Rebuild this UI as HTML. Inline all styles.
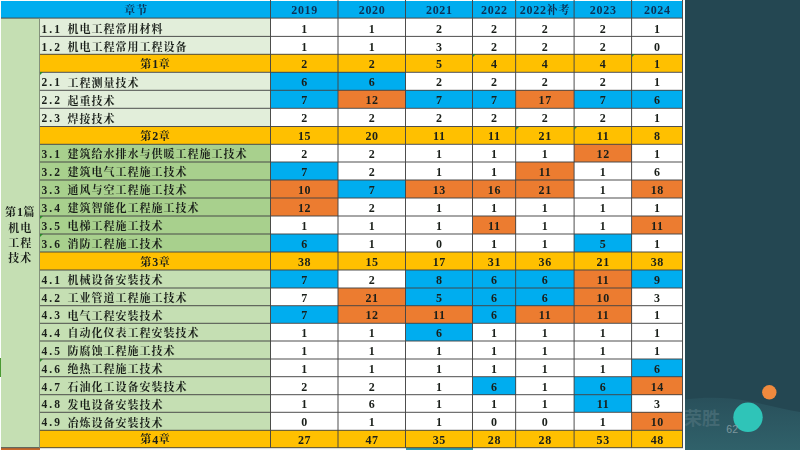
<!DOCTYPE html>
<html lang="zh-CN"><head><meta charset="utf-8"><title>章节分值统计</title>
<style>
html,body{margin:0;padding:0}
body{width:800px;height:450px;overflow:hidden;position:relative;background:#244752;font-family:"Liberation Serif","Noto Serif CJK SC",serif;font-weight:bold;color:#1a1f1a}
#t{position:absolute;left:0;top:0;width:685px;will-change:transform;height:450px;background:#fbfdfb;overflow:hidden}
.c{position:absolute;box-sizing:border-box;font-size:12px;line-height:1;white-space:nowrap;display:flex;align-items:center;justify-content:center;padding-top:2px}
.n{letter-spacing:0.7px;padding-left:0.7px}
.s{justify-content:flex-start;padding-left:2px;padding-top:3.5px;font-size:11px;letter-spacing:1px}
.g{font-size:11px;letter-spacing:1px;padding-left:1px}
.g i{font-style:normal;font-size:12px;letter-spacing:0.5px}
.z{font-size:11px;letter-spacing:1px}
.s i{font-style:normal;display:inline-block;width:26px;font-size:11.5px;letter-spacing:2px}
.k{position:absolute;width:0;height:0;border-top:3px solid #2a8a2a;border-right:3px solid transparent}
#p{position:absolute;left:0.5px;top:21px;width:38.5px;height:430px;display:flex;flex-direction:column;align-items:center;justify-content:center;font-size:11px;letter-spacing:1px;padding-left:1px;box-sizing:border-box;line-height:15.3px;text-align:center}
#p i{font-style:normal;font-size:12px;letter-spacing:0.5px}
</style></head><body>
<div id="t">
<div class="c g" style="left:1px;top:1px;width:269.5px;height:17.1px;background:#00adef;color:#0c3256;padding-top:1.4px">章节</div>
<div class="c n" style="left:270.5px;top:1px;width:67.5px;height:17.1px;background:#00adef;color:#0c3256;padding-top:1.4px">2019</div>
<div class="c n" style="left:338px;top:1px;width:67.5px;height:17.1px;background:#00adef;color:#0c3256;padding-top:1.4px">2020</div>
<div class="c n" style="left:405.5px;top:1px;width:67.0px;height:17.1px;background:#00adef;color:#0c3256;padding-top:1.4px">2021</div>
<div class="c n" style="left:472.5px;top:1px;width:43.15px;height:17.1px;background:#00adef;color:#0c3256;padding-top:1.4px">2022</div>
<div class="c n" style="left:515.65px;top:1px;width:58.45px;height:17.1px;background:#00adef;color:#0c3256;padding-top:1.4px">2022<span class="z">补考</span></div>
<div class="c n" style="left:574.1px;top:1px;width:57.5px;height:17.1px;background:#00adef;color:#0c3256;padding-top:1.4px">2023</div>
<div class="c n" style="left:631.6px;top:1px;width:50.9px;height:17.1px;background:#00adef;color:#0c3256;padding-top:1.4px">2024</div>
<div class="c" style="left:1px;top:18.1px;width:38.5px;height:429.6px;background:#c5dfb3"></div>
<div id="p"><span>第<i>1</i>篇</span><span>机电</span><span>工程</span><span>技术</span></div>
<div class="c" style="left:1px;top:448.2px;width:38.5px;height:2px;background:#c8692a"></div>
<div class="c" style="left:405.5px;top:448px;width:67px;height:2px;background:#2a9bb0"></div>
<div class="c s" style="left:39.5px;top:18.1px;width:231.0px;height:18.3px;background:#e2eeda;padding-top:4.6px"><i>1.1</i>机电工程常用材料</div>
<div class="c n" style="left:270.5px;top:18.1px;width:67.5px;height:18.3px;background:#ffffff;padding-top:3px">1</div>
<div class="c n" style="left:338px;top:18.1px;width:67.5px;height:18.3px;background:#ffffff;padding-top:3px">1</div>
<div class="c n" style="left:405.5px;top:18.1px;width:67.0px;height:18.3px;background:#ffffff;padding-top:3px">2</div>
<div class="c n" style="left:472.5px;top:18.1px;width:43.15px;height:18.3px;background:#ffffff;padding-top:3px">2</div>
<div class="c n" style="left:515.65px;top:18.1px;width:58.45px;height:18.3px;background:#ffffff;padding-top:3px">2</div>
<div class="c n" style="left:574.1px;top:18.1px;width:57.5px;height:18.3px;background:#ffffff;padding-top:3px">2</div>
<div class="c n" style="left:631.6px;top:18.1px;width:50.9px;height:18.3px;background:#ffffff;padding-top:3px">1</div>
<div class="c s" style="left:39.5px;top:36.4px;width:231.0px;height:17.9px;background:#e2eeda;padding-top:4.6px"><i>1.2</i>机电工程常用工程设备</div>
<div class="c n" style="left:270.5px;top:36.4px;width:67.5px;height:17.9px;background:#ffffff;padding-top:3px">1</div>
<div class="c n" style="left:338px;top:36.4px;width:67.5px;height:17.9px;background:#ffffff;padding-top:3px">1</div>
<div class="c n" style="left:405.5px;top:36.4px;width:67.0px;height:17.9px;background:#ffffff;padding-top:3px">3</div>
<div class="c n" style="left:472.5px;top:36.4px;width:43.15px;height:17.9px;background:#ffffff;padding-top:3px">2</div>
<div class="c n" style="left:515.65px;top:36.4px;width:58.45px;height:17.9px;background:#ffffff;padding-top:3px">2</div>
<div class="c n" style="left:574.1px;top:36.4px;width:57.5px;height:17.9px;background:#ffffff;padding-top:3px">2</div>
<div class="c n" style="left:631.6px;top:36.4px;width:50.9px;height:17.9px;background:#ffffff;padding-top:3px">0</div>
<div class="c g" style="left:39.5px;top:54.3px;width:231.0px;height:18.0px;background:#ffc000">第<i>1</i>章</div>
<div class="c n" style="left:270.5px;top:54.3px;width:67.5px;height:18.0px;background:#ffc000">2</div>
<div class="c n" style="left:338px;top:54.3px;width:67.5px;height:18.0px;background:#ffc000">2</div>
<div class="c n" style="left:405.5px;top:54.3px;width:67.0px;height:18.0px;background:#ffc000">5</div>
<div class="c n" style="left:472.5px;top:54.3px;width:43.15px;height:18.0px;background:#ffc000">4</div>
<div class="c n" style="left:515.65px;top:54.3px;width:58.45px;height:18.0px;background:#ffc000">4</div>
<div class="c n" style="left:574.1px;top:54.3px;width:57.5px;height:18.0px;background:#ffc000">4</div>
<div class="c n" style="left:631.6px;top:54.3px;width:50.9px;height:18.0px;background:#ffc000">1</div>
<div class="c s" style="left:39.5px;top:72.3px;width:231.0px;height:18.0px;background:#e2eeda"><i>2.1</i>工程测量技术</div>
<div class="c n" style="left:270.5px;top:72.3px;width:67.5px;height:18.0px;background:#00adef">6</div>
<div class="c n" style="left:338px;top:72.3px;width:67.5px;height:18.0px;background:#00adef">6</div>
<div class="c n" style="left:405.5px;top:72.3px;width:67.0px;height:18.0px;background:#ffffff">2</div>
<div class="c n" style="left:472.5px;top:72.3px;width:43.15px;height:18.0px;background:#ffffff">2</div>
<div class="c n" style="left:515.65px;top:72.3px;width:58.45px;height:18.0px;background:#ffffff">2</div>
<div class="c n" style="left:574.1px;top:72.3px;width:57.5px;height:18.0px;background:#ffffff">2</div>
<div class="c n" style="left:631.6px;top:72.3px;width:50.9px;height:18.0px;background:#ffffff">1</div>
<div class="c s" style="left:39.5px;top:90.3px;width:231.0px;height:18.0px;background:#e2eeda"><i>2.2</i>起重技术</div>
<div class="c n" style="left:270.5px;top:90.3px;width:67.5px;height:18.0px;background:#00adef">7</div>
<div class="c n" style="left:338px;top:90.3px;width:67.5px;height:18.0px;background:#ec7c30">12</div>
<div class="c n" style="left:405.5px;top:90.3px;width:67.0px;height:18.0px;background:#00adef">7</div>
<div class="c n" style="left:472.5px;top:90.3px;width:43.15px;height:18.0px;background:#00adef">7</div>
<div class="c n" style="left:515.65px;top:90.3px;width:58.45px;height:18.0px;background:#ec7c30">17</div>
<div class="c n" style="left:574.1px;top:90.3px;width:57.5px;height:18.0px;background:#00adef">7</div>
<div class="c n" style="left:631.6px;top:90.3px;width:50.9px;height:18.0px;background:#00adef">6</div>
<div class="c s" style="left:39.5px;top:108.3px;width:231.0px;height:18.2px;background:#e2eeda"><i>2.3</i>焊接技术</div>
<div class="c n" style="left:270.5px;top:108.3px;width:67.5px;height:18.2px;background:#ffffff">2</div>
<div class="c n" style="left:338px;top:108.3px;width:67.5px;height:18.2px;background:#ffffff">2</div>
<div class="c n" style="left:405.5px;top:108.3px;width:67.0px;height:18.2px;background:#ffffff">2</div>
<div class="c n" style="left:472.5px;top:108.3px;width:43.15px;height:18.2px;background:#ffffff">2</div>
<div class="c n" style="left:515.65px;top:108.3px;width:58.45px;height:18.2px;background:#ffffff">2</div>
<div class="c n" style="left:574.1px;top:108.3px;width:57.5px;height:18.2px;background:#ffffff">2</div>
<div class="c n" style="left:631.6px;top:108.3px;width:50.9px;height:18.2px;background:#ffffff">1</div>
<div class="c g" style="left:39.5px;top:126.5px;width:231.0px;height:17.8px;background:#ffc000">第<i>2</i>章</div>
<div class="c n" style="left:270.5px;top:126.5px;width:67.5px;height:17.8px;background:#ffc000">15</div>
<div class="c n" style="left:338px;top:126.5px;width:67.5px;height:17.8px;background:#ffc000">20</div>
<div class="c n" style="left:405.5px;top:126.5px;width:67.0px;height:17.8px;background:#ffc000">11</div>
<div class="c n" style="left:472.5px;top:126.5px;width:43.15px;height:17.8px;background:#ffc000">11</div>
<div class="c n" style="left:515.65px;top:126.5px;width:58.45px;height:17.8px;background:#ffc000">21</div>
<div class="c n" style="left:574.1px;top:126.5px;width:57.5px;height:17.8px;background:#ffc000">11</div>
<div class="c n" style="left:631.6px;top:126.5px;width:50.9px;height:17.8px;background:#ffc000">8</div>
<div class="c s" style="left:39.5px;top:144.3px;width:231.0px;height:17.7px;background:#a8d08d"><i>3.1</i>建筑给水排水与供暖工程施工技术</div>
<div class="c n" style="left:270.5px;top:144.3px;width:67.5px;height:17.7px;background:#ffffff">2</div>
<div class="c n" style="left:338px;top:144.3px;width:67.5px;height:17.7px;background:#ffffff">2</div>
<div class="c n" style="left:405.5px;top:144.3px;width:67.0px;height:17.7px;background:#ffffff">1</div>
<div class="c n" style="left:472.5px;top:144.3px;width:43.15px;height:17.7px;background:#ffffff">1</div>
<div class="c n" style="left:515.65px;top:144.3px;width:58.45px;height:17.7px;background:#ffffff">1</div>
<div class="c n" style="left:574.1px;top:144.3px;width:57.5px;height:17.7px;background:#ec7c30">12</div>
<div class="c n" style="left:631.6px;top:144.3px;width:50.9px;height:17.7px;background:#ffffff">1</div>
<div class="c s" style="left:39.5px;top:162px;width:231.0px;height:18px;background:#a8d08d"><i>3.2</i>建筑电气工程施工技术</div>
<div class="c n" style="left:270.5px;top:162px;width:67.5px;height:18px;background:#00adef">7</div>
<div class="c n" style="left:338px;top:162px;width:67.5px;height:18px;background:#ffffff">2</div>
<div class="c n" style="left:405.5px;top:162px;width:67.0px;height:18px;background:#ffffff">1</div>
<div class="c n" style="left:472.5px;top:162px;width:43.15px;height:18px;background:#ffffff">1</div>
<div class="c n" style="left:515.65px;top:162px;width:58.45px;height:18px;background:#ec7c30">11</div>
<div class="c n" style="left:574.1px;top:162px;width:57.5px;height:18px;background:#ffffff">1</div>
<div class="c n" style="left:631.6px;top:162px;width:50.9px;height:18px;background:#ffffff">6</div>
<div class="c s" style="left:39.5px;top:180px;width:231.0px;height:18px;background:#a8d08d"><i>3.3</i>通风与空工程施工技术</div>
<div class="c n" style="left:270.5px;top:180px;width:67.5px;height:18px;background:#ec7c30">10</div>
<div class="c n" style="left:338px;top:180px;width:67.5px;height:18px;background:#00adef">7</div>
<div class="c n" style="left:405.5px;top:180px;width:67.0px;height:18px;background:#ec7c30">13</div>
<div class="c n" style="left:472.5px;top:180px;width:43.15px;height:18px;background:#ec7c30">16</div>
<div class="c n" style="left:515.65px;top:180px;width:58.45px;height:18px;background:#ec7c30">21</div>
<div class="c n" style="left:574.1px;top:180px;width:57.5px;height:18px;background:#ffffff">1</div>
<div class="c n" style="left:631.6px;top:180px;width:50.9px;height:18px;background:#ec7c30">18</div>
<div class="c s" style="left:39.5px;top:198px;width:231.0px;height:18px;background:#a8d08d"><i>3.4</i>建筑智能化工程施工技术</div>
<div class="c n" style="left:270.5px;top:198px;width:67.5px;height:18px;background:#ec7c30">12</div>
<div class="c n" style="left:338px;top:198px;width:67.5px;height:18px;background:#ffffff">2</div>
<div class="c n" style="left:405.5px;top:198px;width:67.0px;height:18px;background:#ffffff">1</div>
<div class="c n" style="left:472.5px;top:198px;width:43.15px;height:18px;background:#ffffff">1</div>
<div class="c n" style="left:515.65px;top:198px;width:58.45px;height:18px;background:#ffffff">1</div>
<div class="c n" style="left:574.1px;top:198px;width:57.5px;height:18px;background:#ffffff">1</div>
<div class="c n" style="left:631.6px;top:198px;width:50.9px;height:18px;background:#ffffff">1</div>
<div class="c s" style="left:39.5px;top:216px;width:231.0px;height:18px;background:#a8d08d"><i>3.5</i>电梯工程施工技术</div>
<div class="c n" style="left:270.5px;top:216px;width:67.5px;height:18px;background:#ffffff">1</div>
<div class="c n" style="left:338px;top:216px;width:67.5px;height:18px;background:#ffffff">1</div>
<div class="c n" style="left:405.5px;top:216px;width:67.0px;height:18px;background:#ffffff">1</div>
<div class="c n" style="left:472.5px;top:216px;width:43.15px;height:18px;background:#ec7c30">11</div>
<div class="c n" style="left:515.65px;top:216px;width:58.45px;height:18px;background:#ffffff">1</div>
<div class="c n" style="left:574.1px;top:216px;width:57.5px;height:18px;background:#ffffff">1</div>
<div class="c n" style="left:631.6px;top:216px;width:50.9px;height:18px;background:#ec7c30">11</div>
<div class="c s" style="left:39.5px;top:234px;width:231.0px;height:18px;background:#a8d08d"><i>3.6</i>消防工程施工技术</div>
<div class="c n" style="left:270.5px;top:234px;width:67.5px;height:18px;background:#00adef">6</div>
<div class="c n" style="left:338px;top:234px;width:67.5px;height:18px;background:#ffffff">1</div>
<div class="c n" style="left:405.5px;top:234px;width:67.0px;height:18px;background:#ffffff">0</div>
<div class="c n" style="left:472.5px;top:234px;width:43.15px;height:18px;background:#ffffff">1</div>
<div class="c n" style="left:515.65px;top:234px;width:58.45px;height:18px;background:#ffffff">1</div>
<div class="c n" style="left:574.1px;top:234px;width:57.5px;height:18px;background:#00adef">5</div>
<div class="c n" style="left:631.6px;top:234px;width:50.9px;height:18px;background:#ffffff">1</div>
<div class="c g" style="left:39.5px;top:252px;width:231.0px;height:18px;background:#ffc000">第<i>3</i>章</div>
<div class="c n" style="left:270.5px;top:252px;width:67.5px;height:18px;background:#ffc000">38</div>
<div class="c n" style="left:338px;top:252px;width:67.5px;height:18px;background:#ffc000">15</div>
<div class="c n" style="left:405.5px;top:252px;width:67.0px;height:18px;background:#ffc000">17</div>
<div class="c n" style="left:472.5px;top:252px;width:43.15px;height:18px;background:#ffc000">31</div>
<div class="c n" style="left:515.65px;top:252px;width:58.45px;height:18px;background:#ffc000">36</div>
<div class="c n" style="left:574.1px;top:252px;width:57.5px;height:18px;background:#ffc000">21</div>
<div class="c n" style="left:631.6px;top:252px;width:50.9px;height:18px;background:#ffc000">38</div>
<div class="c s" style="left:39.5px;top:270px;width:231.0px;height:18px;background:#c5dfb3"><i>4.1</i>机械设备安装技术</div>
<div class="c n" style="left:270.5px;top:270px;width:67.5px;height:18px;background:#00adef">7</div>
<div class="c n" style="left:338px;top:270px;width:67.5px;height:18px;background:#ffffff">2</div>
<div class="c n" style="left:405.5px;top:270px;width:67.0px;height:18px;background:#00adef">8</div>
<div class="c n" style="left:472.5px;top:270px;width:43.15px;height:18px;background:#00adef">6</div>
<div class="c n" style="left:515.65px;top:270px;width:58.45px;height:18px;background:#00adef">6</div>
<div class="c n" style="left:574.1px;top:270px;width:57.5px;height:18px;background:#ec7c30">11</div>
<div class="c n" style="left:631.6px;top:270px;width:50.9px;height:18px;background:#00adef">9</div>
<div class="c s" style="left:39.5px;top:288px;width:231.0px;height:17.7px;background:#c5dfb3"><i>4.2</i>工业管道工程施工技术</div>
<div class="c n" style="left:270.5px;top:288px;width:67.5px;height:17.7px;background:#ffffff">7</div>
<div class="c n" style="left:338px;top:288px;width:67.5px;height:17.7px;background:#ec7c30">21</div>
<div class="c n" style="left:405.5px;top:288px;width:67.0px;height:17.7px;background:#00adef">5</div>
<div class="c n" style="left:472.5px;top:288px;width:43.15px;height:17.7px;background:#00adef">6</div>
<div class="c n" style="left:515.65px;top:288px;width:58.45px;height:17.7px;background:#00adef">6</div>
<div class="c n" style="left:574.1px;top:288px;width:57.5px;height:17.7px;background:#ec7c30">10</div>
<div class="c n" style="left:631.6px;top:288px;width:50.9px;height:17.7px;background:#ffffff">3</div>
<div class="c s" style="left:39.5px;top:305.7px;width:231.0px;height:17.6px;background:#c5dfb3"><i>4.3</i>电气工程安装技术</div>
<div class="c n" style="left:270.5px;top:305.7px;width:67.5px;height:17.6px;background:#00adef">7</div>
<div class="c n" style="left:338px;top:305.7px;width:67.5px;height:17.6px;background:#ec7c30">12</div>
<div class="c n" style="left:405.5px;top:305.7px;width:67.0px;height:17.6px;background:#ec7c30">11</div>
<div class="c n" style="left:472.5px;top:305.7px;width:43.15px;height:17.6px;background:#00adef">6</div>
<div class="c n" style="left:515.65px;top:305.7px;width:58.45px;height:17.6px;background:#ec7c30">11</div>
<div class="c n" style="left:574.1px;top:305.7px;width:57.5px;height:17.6px;background:#ec7c30">11</div>
<div class="c n" style="left:631.6px;top:305.7px;width:50.9px;height:17.6px;background:#ffffff">1</div>
<div class="c s" style="left:39.5px;top:323.3px;width:231.0px;height:17.7px;background:#c5dfb3"><i>4.4</i>自动化仪表工程安装技术</div>
<div class="c n" style="left:270.5px;top:323.3px;width:67.5px;height:17.7px;background:#ffffff">1</div>
<div class="c n" style="left:338px;top:323.3px;width:67.5px;height:17.7px;background:#ffffff">1</div>
<div class="c n" style="left:405.5px;top:323.3px;width:67.0px;height:17.7px;background:#00adef">6</div>
<div class="c n" style="left:472.5px;top:323.3px;width:43.15px;height:17.7px;background:#ffffff">1</div>
<div class="c n" style="left:515.65px;top:323.3px;width:58.45px;height:17.7px;background:#ffffff">1</div>
<div class="c n" style="left:574.1px;top:323.3px;width:57.5px;height:17.7px;background:#ffffff">1</div>
<div class="c n" style="left:631.6px;top:323.3px;width:50.9px;height:17.7px;background:#ffffff">1</div>
<div class="c s" style="left:39.5px;top:341px;width:231.0px;height:18px;background:#c5dfb3"><i>4.5</i>防腐蚀工程施工技术</div>
<div class="c n" style="left:270.5px;top:341px;width:67.5px;height:18px;background:#ffffff">1</div>
<div class="c n" style="left:338px;top:341px;width:67.5px;height:18px;background:#ffffff">1</div>
<div class="c n" style="left:405.5px;top:341px;width:67.0px;height:18px;background:#ffffff">1</div>
<div class="c n" style="left:472.5px;top:341px;width:43.15px;height:18px;background:#ffffff">1</div>
<div class="c n" style="left:515.65px;top:341px;width:58.45px;height:18px;background:#ffffff">1</div>
<div class="c n" style="left:574.1px;top:341px;width:57.5px;height:18px;background:#ffffff">1</div>
<div class="c n" style="left:631.6px;top:341px;width:50.9px;height:18px;background:#ffffff">1</div>
<div class="c s" style="left:39.5px;top:359px;width:231.0px;height:17.7px;background:#c5dfb3"><i>4.6</i>绝热工程施工技术</div>
<div class="c n" style="left:270.5px;top:359px;width:67.5px;height:17.7px;background:#ffffff">1</div>
<div class="c n" style="left:338px;top:359px;width:67.5px;height:17.7px;background:#ffffff">1</div>
<div class="c n" style="left:405.5px;top:359px;width:67.0px;height:17.7px;background:#ffffff">1</div>
<div class="c n" style="left:472.5px;top:359px;width:43.15px;height:17.7px;background:#ffffff">1</div>
<div class="c n" style="left:515.65px;top:359px;width:58.45px;height:17.7px;background:#ffffff">1</div>
<div class="c n" style="left:574.1px;top:359px;width:57.5px;height:17.7px;background:#ffffff">1</div>
<div class="c n" style="left:631.6px;top:359px;width:50.9px;height:17.7px;background:#00adef">6</div>
<div class="c s" style="left:39.5px;top:376.7px;width:231.0px;height:18.0px;background:#c5dfb3"><i>4.7</i>石油化工设备安装技术</div>
<div class="c n" style="left:270.5px;top:376.7px;width:67.5px;height:18.0px;background:#ffffff">2</div>
<div class="c n" style="left:338px;top:376.7px;width:67.5px;height:18.0px;background:#ffffff">2</div>
<div class="c n" style="left:405.5px;top:376.7px;width:67.0px;height:18.0px;background:#ffffff">1</div>
<div class="c n" style="left:472.5px;top:376.7px;width:43.15px;height:18.0px;background:#00adef">6</div>
<div class="c n" style="left:515.65px;top:376.7px;width:58.45px;height:18.0px;background:#ffffff">1</div>
<div class="c n" style="left:574.1px;top:376.7px;width:57.5px;height:18.0px;background:#00adef">6</div>
<div class="c n" style="left:631.6px;top:376.7px;width:50.9px;height:18.0px;background:#ec7c30">14</div>
<div class="c s" style="left:39.5px;top:394.7px;width:231.0px;height:17.6px;background:#c5dfb3"><i>4.8</i>发电设备安装技术</div>
<div class="c n" style="left:270.5px;top:394.7px;width:67.5px;height:17.6px;background:#ffffff">1</div>
<div class="c n" style="left:338px;top:394.7px;width:67.5px;height:17.6px;background:#ffffff">6</div>
<div class="c n" style="left:405.5px;top:394.7px;width:67.0px;height:17.6px;background:#ffffff">1</div>
<div class="c n" style="left:472.5px;top:394.7px;width:43.15px;height:17.6px;background:#ffffff">1</div>
<div class="c n" style="left:515.65px;top:394.7px;width:58.45px;height:17.6px;background:#ffffff">1</div>
<div class="c n" style="left:574.1px;top:394.7px;width:57.5px;height:17.6px;background:#00adef">11</div>
<div class="c n" style="left:631.6px;top:394.7px;width:50.9px;height:17.6px;background:#ffffff">3</div>
<div class="c s" style="left:39.5px;top:412.3px;width:231.0px;height:18.0px;background:#c5dfb3"><i>4.9</i>冶炼设备安装技术</div>
<div class="c n" style="left:270.5px;top:412.3px;width:67.5px;height:18.0px;background:#ffffff">0</div>
<div class="c n" style="left:338px;top:412.3px;width:67.5px;height:18.0px;background:#ffffff">1</div>
<div class="c n" style="left:405.5px;top:412.3px;width:67.0px;height:18.0px;background:#ffffff">1</div>
<div class="c n" style="left:472.5px;top:412.3px;width:43.15px;height:18.0px;background:#ffffff">0</div>
<div class="c n" style="left:515.65px;top:412.3px;width:58.45px;height:18.0px;background:#ffffff">0</div>
<div class="c n" style="left:574.1px;top:412.3px;width:57.5px;height:18.0px;background:#ffffff">1</div>
<div class="c n" style="left:631.6px;top:412.3px;width:50.9px;height:18.0px;background:#ec7c30">10</div>
<div class="c g" style="left:39.5px;top:430.3px;width:231.0px;height:17.4px;background:#ffc000">第<i>4</i>章</div>
<div class="c n" style="left:270.5px;top:430.3px;width:67.5px;height:17.4px;background:#ffc000">27</div>
<div class="c n" style="left:338px;top:430.3px;width:67.5px;height:17.4px;background:#ffc000">47</div>
<div class="c n" style="left:405.5px;top:430.3px;width:67.0px;height:17.4px;background:#ffc000">35</div>
<div class="c n" style="left:472.5px;top:430.3px;width:43.15px;height:17.4px;background:#ffc000">28</div>
<div class="c n" style="left:515.65px;top:430.3px;width:58.45px;height:17.4px;background:#ffc000">28</div>
<div class="c n" style="left:574.1px;top:430.3px;width:57.5px;height:17.4px;background:#ffc000">53</div>
<div class="c n" style="left:631.6px;top:430.3px;width:50.9px;height:17.4px;background:#ffc000">48</div>
<svg style="position:absolute;left:0;top:0" width="686" height="450" viewBox="0 0 686 450" stroke="#444444" stroke-width="0.95" fill="none">
<path d="M1 18.1H683.0M39.5 36.4H683.0M39.5 54.3H683.0M39.5 72.3H683.0M39.5 90.3H683.0M39.5 108.3H683.0M39.5 126.5H683.0M39.5 144.3H683.0M39.5 162H683.0M39.5 180H683.0M39.5 198H683.0M39.5 216H683.0M39.5 234H683.0M39.5 252H683.0M39.5 270H683.0M39.5 288H683.0M39.5 305.7H683.0M39.5 323.3H683.0M39.5 341H683.0M39.5 359H683.0M39.5 376.7H683.0M39.5 394.7H683.0M39.5 412.3H683.0M39.5 430.3H683.0M1 447.7H683.0M270.5 0V447.7M338 0V447.7M405.5 0V447.7M472.5 0V447.7M515.65 0V447.7M574.1 0V447.7M631.6 0V447.7M682.5 0V447.7"/>
<path d="M39.5 18.1V447.7" stroke="#7f8c78"/>
</svg>
<div class="k" style="left:39.5px;top:72.3px"></div>
<div class="k" style="left:39.5px;top:216px"></div>
<div class="k" style="left:39.5px;top:234px"></div>
<div class="k" style="left:39.5px;top:359px"></div>
<div class="k" style="left:472.5px;top:54.3px"></div>
<div class="k" style="left:632px;top:54.3px"></div>
<div class="k" style="left:515.65px;top:126.5px"></div>
<div class="k" style="left:574.1px;top:126.5px"></div>
<div style="position:absolute;left:0;top:358.3px;width:1.2px;height:18.4px;background:#4a9a32"></div>
</div>
<svg style="position:absolute;left:685px;top:0" width="115" height="450" viewBox="685 0 115 450">
<defs><linearGradient id="wg" x1="0" y1="0" x2="0" y2="1"><stop offset="0" stop-color="#29505b"/><stop offset="1" stop-color="#30616a"/></linearGradient></defs>
<path d="M685 399.5 C 700 397.5, 715 397, 730 398.5 C 755 401, 780 409, 800 412 L800 450 L685 450 Z" fill="url(#wg)"/>
<circle cx="769.3" cy="392.3" r="7.2" fill="#ef8a3e"/>
<circle cx="748" cy="417.3" r="14.7" fill="#2fc4b8"/>
<text x="684" y="425" font-family="Liberation Sans,Noto Sans CJK SC,sans-serif" font-weight="bold" font-size="18" fill="#436973">荣胜</text>
<text x="726.3" y="433.2" font-family="Liberation Sans,sans-serif" font-weight="normal" font-size="10.5" fill="#7d979d">62</text>
</svg>
</body></html>
